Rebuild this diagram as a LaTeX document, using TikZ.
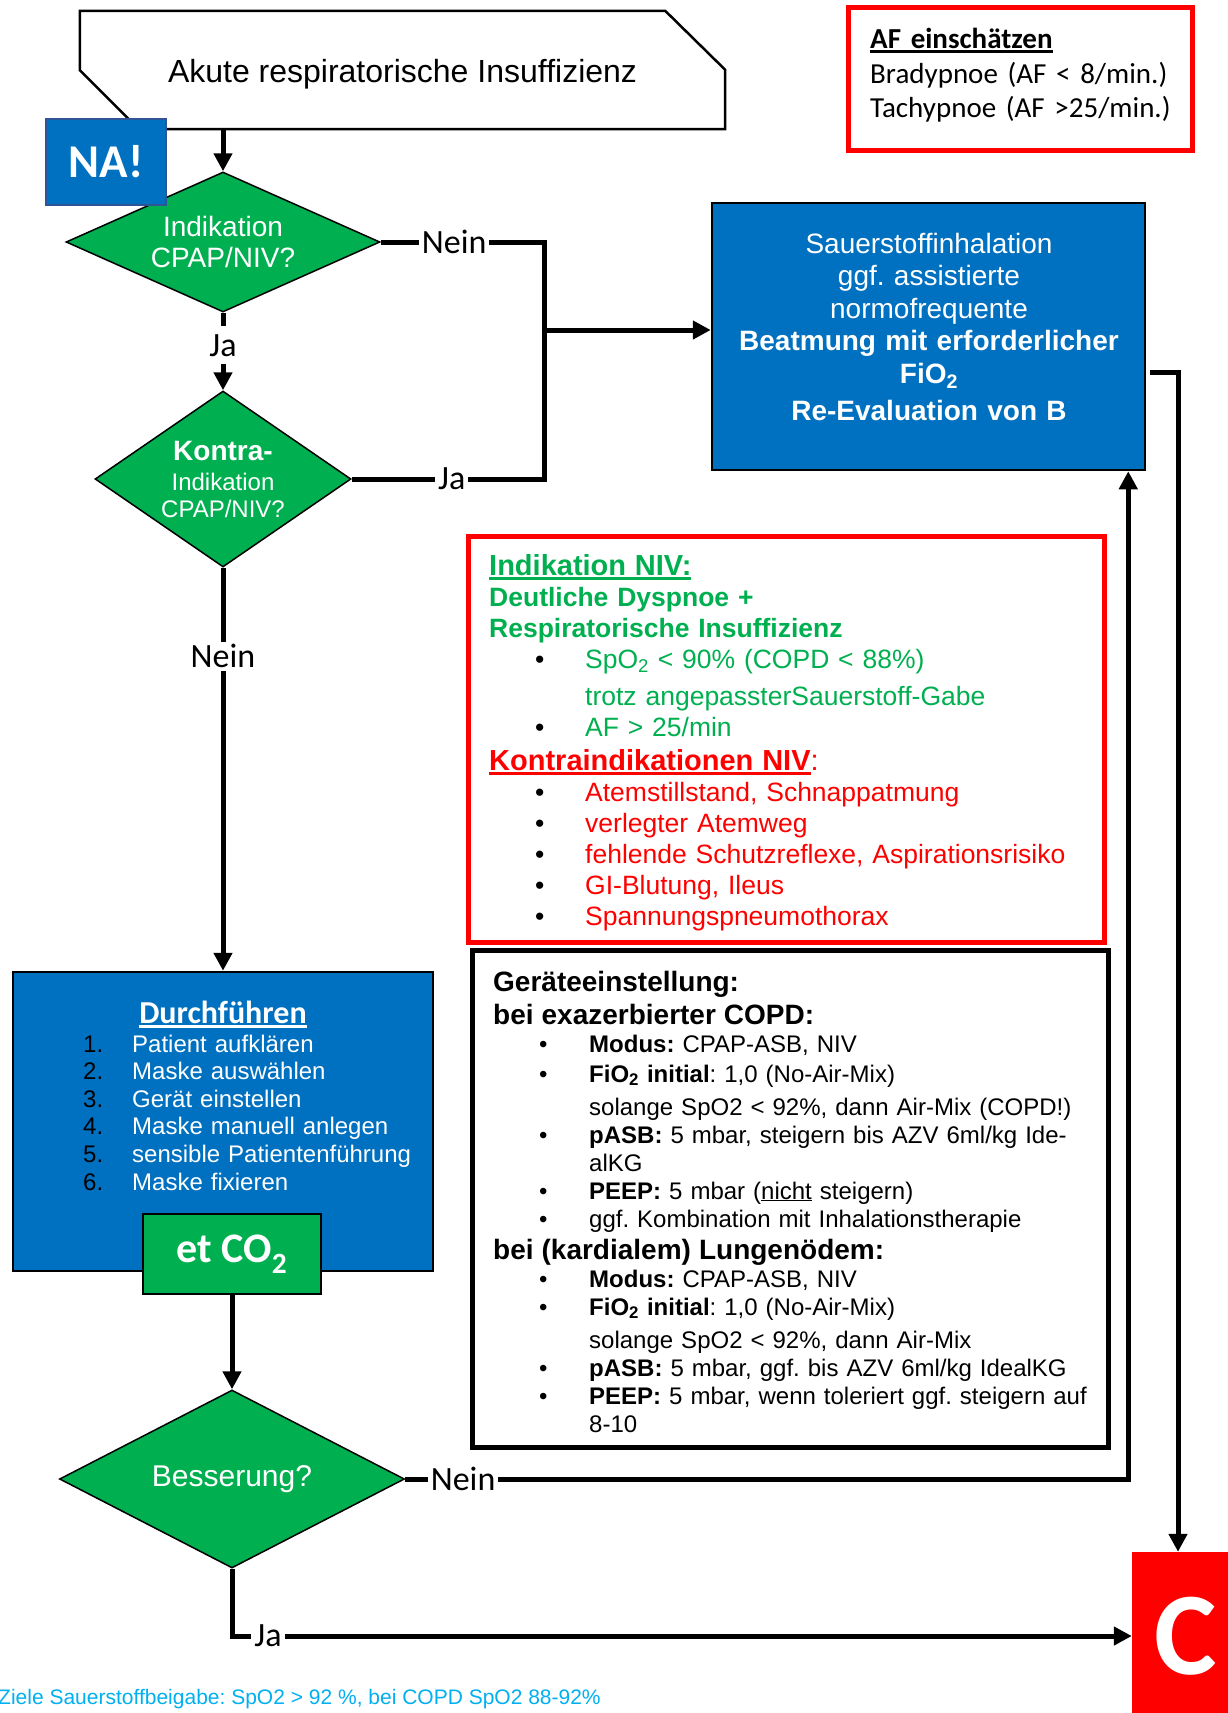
\documentclass[tikz,border=0pt]{standalone}
\usepackage{fontspec}
\setmainfont{Liberation Sans}
\newfontfamily\calibri{Carlito}
\usetikzlibrary{arrows.meta,shapes.geometric}
\frenchspacing

\definecolor{nagreen}{HTML}{00B050}
\definecolor{nablue}{HTML}{0070C0}
\definecolor{naborder}{HTML}{2F5597}
\definecolor{nared}{HTML}{FF0000}
\definecolor{nacyan}{HTML}{00B0F0}

\newcommand\fsz[2]{\fontsize{#1}{#2}\selectfont}
\newcommand\hul[1]{\leavevmode{\setbox0\hbox{#1}\rlap{\rule[-4.5pt]{\wd0}{2.5pt}}\box0}}
\newcommand\bul[1]{\hspace*{46pt}\makebox[50pt][l]{\textcolor{black}{\textbullet}}#1}
\newcommand\ind[1]{\hspace*{96pt}#1}
\newcommand\nr[1]{\makebox[49pt][l]{\textcolor{black}{#1}}}

\begin{document}
\begin{tikzpicture}[x=1pt, y=-1pt,
    boxshape/.style={rectangle, draw, inner sep=0pt},
    bluebox/.style={boxshape, fill=nablue, line width=2.5pt},
    decision/.style={diamond, draw, line width=1.5pt, fill=nagreen, text=white, inner sep=0pt, align=center},
    textblock/.style={anchor=base west, align=left, inner sep=0pt},
    lbl/.style={fill=white, inner sep=3pt, font=\calibri\fsz{34}{40}},
    wire/.style={line width=5pt},
    arrowwire/.style={wire, -{Triangle[length=18pt,width=18pt]}}
]
\useasboundingbox (0,0) rectangle (1228,1713);
\fill[white] (0,0) rectangle (1228,1713);

% Kopf
\node[boxshape, draw=none, minimum width=645pt, minimum height=118pt, text height=24pt, text depth=0pt, font=\fsz{32}{38}] (start) at (402.5,70) {Akute respiratorische Insuffizienz};
\draw[line width=2.5pt] (start.north west) -- ([xshift=-60pt]start.north east) -- ([yshift=-59pt]start.north east)
    -- (start.south east) -- ([xshift=59pt]start.south west) -- ([yshift=59pt]start.south west) -- cycle;

% Entscheidungen
\node[decision, aspect=2.24, minimum width=314pt, minimum height=140pt, font=\fsz{28}{31}] (dia1) at (223,242) {Indikation\\CPAP/NIV?};
\node[decision, aspect=1.45, minimum width=256pt, minimum height=176pt, font=\fsz{24}{27}] (dia2) at (223,479) {{\fsz{28}{31}\bfseries Kontra-}\\[3pt]Indikation\\CPAP/NIV?};
\node[boxshape, fill=nablue, draw=naborder, line width=2pt, minimum width=120pt, minimum height=86pt, text=white, font=\calibri\bfseries\fsz{47}{50}] (na) at (106,162) {NA!};

% AF
\node[boxshape, draw=nared, line width=5pt, minimum width=344pt, minimum height=143pt] (afbox) at (1020.5,79) {};
\node[textblock, text width=320pt, font=\calibri\fsz{29}{35}] (aftext) at (870,48)
    {\hul{\textbf{AF einschätzen}}\\ Bradypnoe (AF < 8/min.)\\ Tachypnoe (AF >25/min.)};

% Sauerstoff
\node[bluebox, minimum width=433pt, minimum height=267pt] (sauer) at (928.5,336.5) {};
\node[textblock, anchor=base, align=center, text width=430pt, text=white, font=\fsz{28}{32.5}] (sauertext) at (929,253)
    {Sauerstoffinhalation\\ ggf. assistierte\\ normofrequente\\ \textbf{Beatmung mit erforderlicher}\\ \textbf{FiO\textsubscript{2}}\\[5pt] \textbf{Re-Evaluation von B}};

% Indikation NIV
\node[boxshape, draw=nared, line width=5pt, minimum width=636pt, minimum height=406pt] (indik) at (786,739) {};
\node[textblock, text width=620pt, text=nagreen, font=\fsz{26.5}{31}] (indiktext) at (489,575) {%
    {\fsz{29}{31}\bfseries\hul{Indikation NIV:}}\\
    \textbf{Deutliche Dyspnoe +}\\
    \textbf{Respiratorische Insuffizienz}\\
    \bul{SpO\textsubscript{2} < 90\% (COPD < 88\%)}\\[6pt]
    \ind{trotz angepassterSauerstoff-Gabe}\\
    \bul{AF > 25/min}\\[3pt]
    \color{nared}{\fsz{29}{31}\bfseries\hul{Kontraindikationen NIV}}{\fsz{29}{31}:}\\
    \bul{Atemstillstand, Schnappatmung}\\
    \bul{verlegter Atemweg}\\
    \bul{fehlende Schutzreflexe, Aspirationsrisiko}\\
    \bul{GI-Blutung, Ileus}\\
    \bul{Spannungspneumothorax}};

% Geraeteeinstellung
\node[boxshape, line width=5pt, minimum width=636pt, minimum height=497pt] (geraet) at (790,1198.5) {};
\node[textblock, text width=620pt, font=\fsz{24}{28}] (geraettext) at (493,991) {%
    {\fsz{28}{28}\bfseries Geräteeinstellung:}\\[5pt]
    {\fsz{28}{28}\bfseries bei exazerbierter COPD:}\\
    \bul{\textbf{Modus:} CPAP-ASB, NIV}\\[2pt]
    \bul{\textbf{FiO\textsubscript{2} initial}: 1,0 (No-Air-Mix)}\\[5pt]
    \ind{solange SpO2 < 92\%, dann Air-Mix (COPD!)}\\
    \bul{\textbf{pASB:} 5 mbar, steigern bis AZV 6ml/kg Ide-}\\
    \ind{alKG}\\
    \bul{\textbf{PEEP:} 5 mbar (\underline{nicht} steigern)}\\
    \bul{ggf. Kombination mit Inhalationstherapie}\\[4pt]
    {\fsz{28}{28}\bfseries bei (kardialem) Lungenödem:}\\
    \bul{\textbf{Modus:} CPAP-ASB, NIV}\\
    \bul{\textbf{FiO\textsubscript{2} initial}: 1,0 (No-Air-Mix)}\\[5pt]
    \ind{solange SpO2 < 92\%, dann Air-Mix}\\
    \bul{\textbf{pASB:} 5 mbar, ggf. bis AZV 6ml/kg IdealKG}\\
    \bul{\textbf{PEEP:} 5 mbar, wenn toleriert ggf. steigern auf}\\
    \ind{8-10}};

% Durchfuehren
\node[bluebox, minimum width=420pt, minimum height=299pt] (durch) at (223,1121.5) {};
\node[anchor=base, inner sep=0pt, text=white, font=\calibri\bfseries\fsz{32}{36}] (durchtitel) at (223,1023) {\hul{Durchführen}};
\node[textblock, text width=340pt, text=white, font=\fsz{24}{27.6}] (durchliste) at (83,1052)
    {\nr{1.}Patient aufklären\\ \nr{2.}Maske auswählen\\ \nr{3.}Gerät einstellen\\
     \nr{4.}Maske manuell anlegen\\ \nr{5.}sensible Patientenführung\\ \nr{6.}Maske fixieren};
\node[boxshape, fill=nagreen, line width=2pt, minimum width=178pt, minimum height=80pt, text=white, font=\calibri\bfseries\fsz{42}{46}] (etco) at (232,1254) {et CO\textsubscript{2}};

% Besserung und C
\node[decision, aspect=1.94, minimum width=345pt, minimum height=178pt, font=\fsz{30}{34}] (besser) at (232,1479) {Besserung?};
\node[boxshape, draw=none, fill=nared, minimum width=108pt, minimum height=168pt, text=white, font=\calibri\bfseries\fsz{118}{120}] (cbox) at (1186,1636) {C};
\node[textblock, text=nacyan, font=\fsz{21}{25}] (ziele) at (-2,1704) {Ziele Sauerstoffbeigabe: SpO2 > 92 \%, bei COPD SpO2 88-92\%};

% Verbindungen
\coordinate (jn) at (544,330);
\draw[arrowwire] (start.south -| dia1.north) -- (dia1.north);
\draw[wire] (dia1.east) -- node[lbl, pos=0.45]{Nein} (dia1.east -| jn) -- (jn);
\draw[wire] (dia2.east) -- node[lbl, pos=0.52]{Ja} (dia2.east -| jn) -- (jn);
\draw[arrowwire] (jn) -- (jn -| sauer.west);
\draw[arrowwire] (dia1.south) -- node[lbl, pos=0.42, inner ysep=8pt]{Ja} (dia2.north);
\draw[arrowwire] (dia2.south) -- node[lbl, pos=0.22]{Nein} (durch.north);
\draw[arrowwire] (etco.south) -- (besser.north);
\draw[arrowwire] (besser.east) -| node[lbl, pos=0.04]{Nein} ([xshift=-18pt]sauer.south east);
\draw[arrowwire] (besser.south) |- node[lbl, pos=0.52]{Ja} (cbox.west);
\draw[arrowwire] ([xshift=4pt, yshift=-35.5pt]sauer.east) -| ([xshift=-8pt]cbox.north);
\end{tikzpicture}
\end{document}
